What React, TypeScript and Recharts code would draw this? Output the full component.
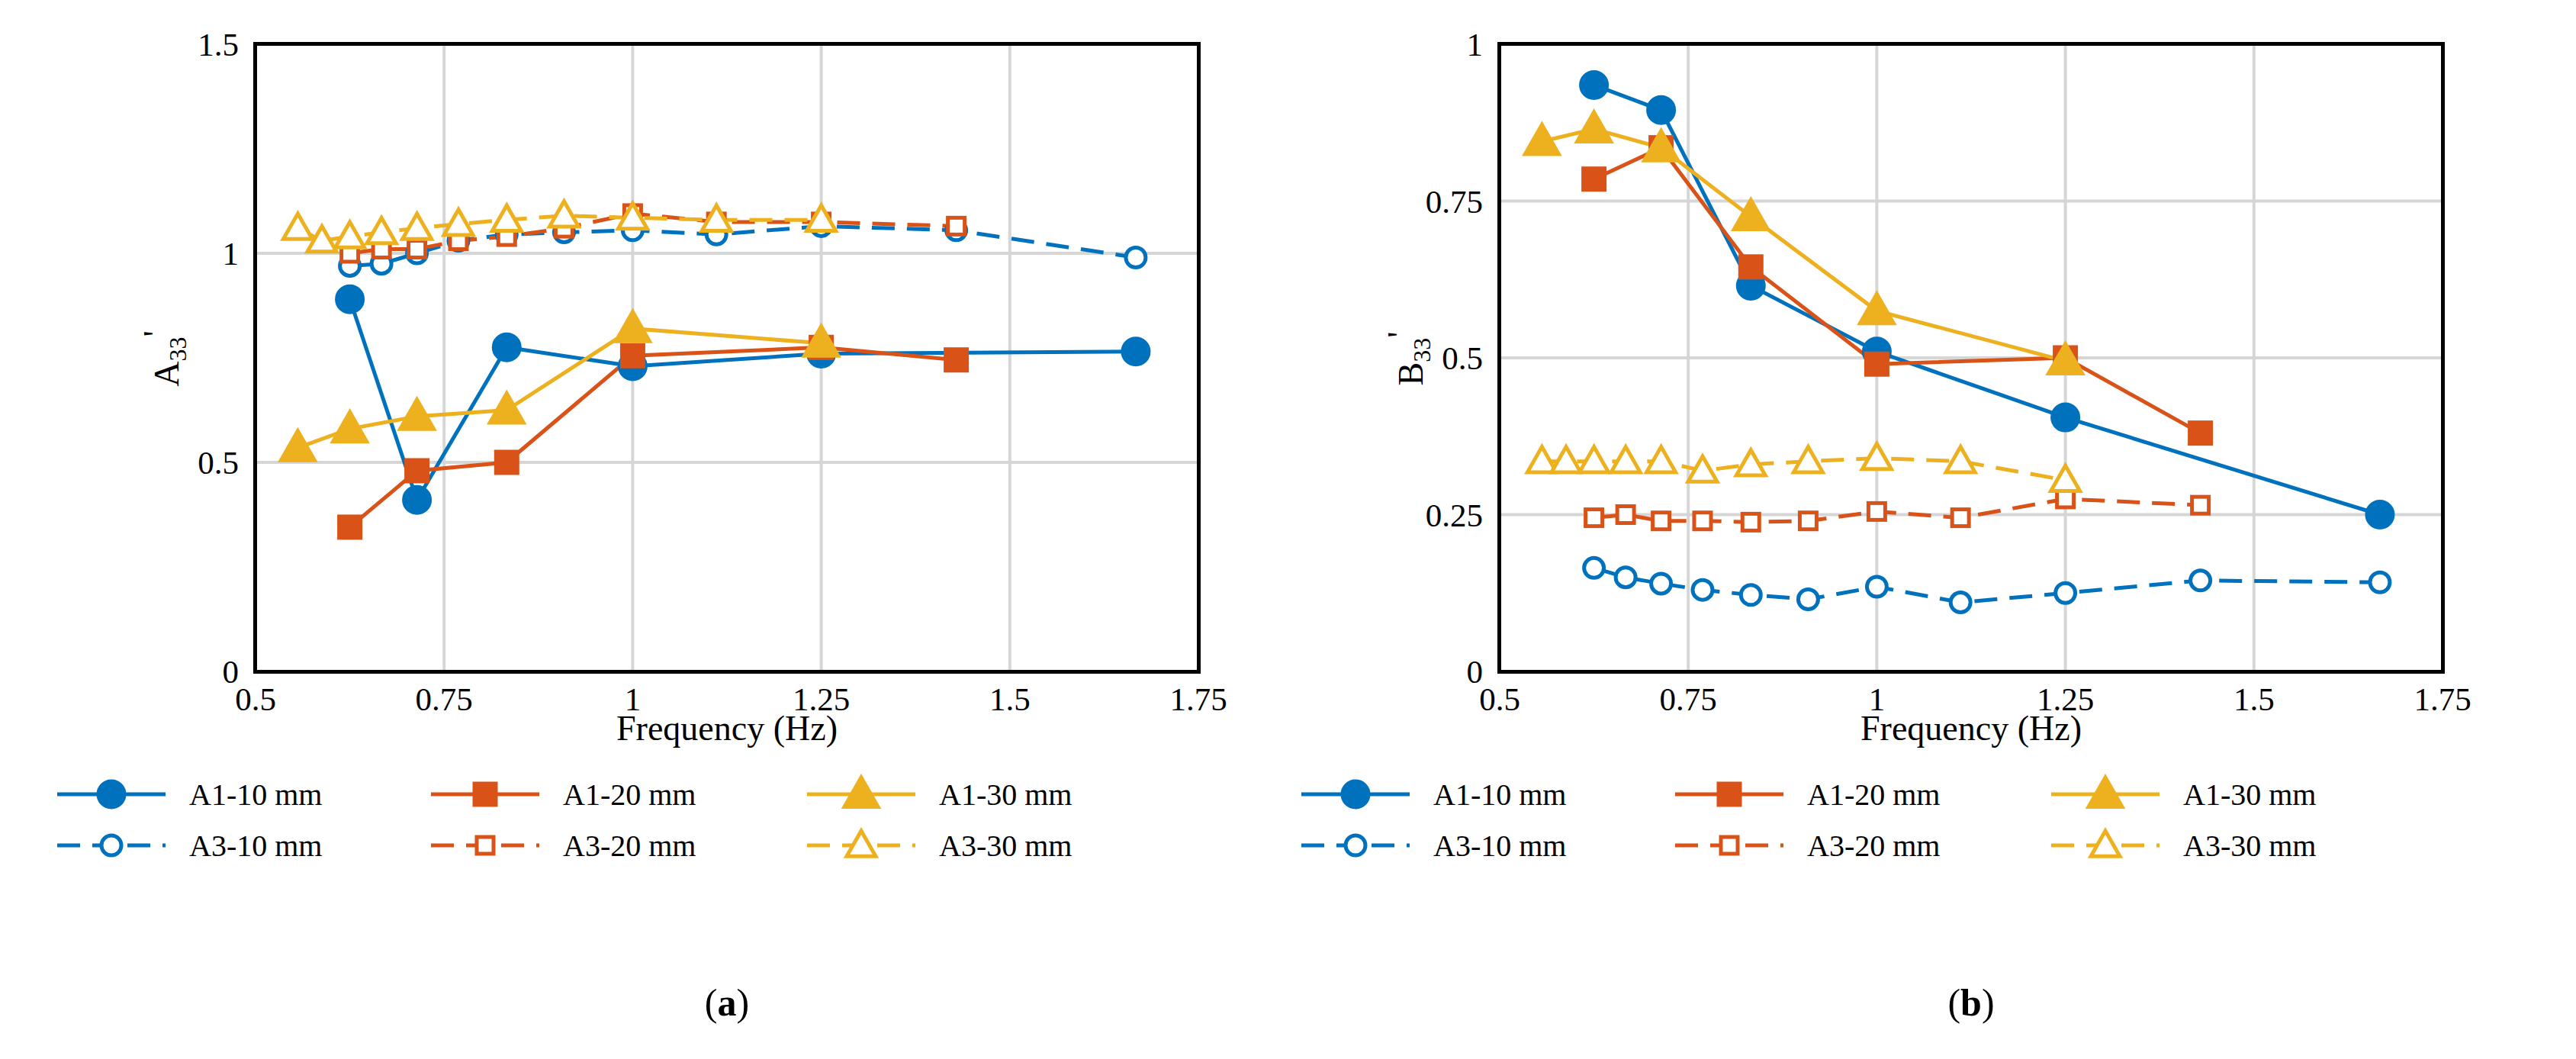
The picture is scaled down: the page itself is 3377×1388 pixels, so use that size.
import { CartesianGrid, Line, LineChart, XAxis, YAxis } from "recharts";

type Pt = { f: number; v: number };
const mk = (fs: number[], vs: number[]): Pt[] => fs.map((f, i) => ({ f, v: vs[i] }));

const F_A1_10 = [0.625, 0.714, 0.833, 1.0, 1.25, 1.667];
const F_A1_20 = [0.625, 0.714, 0.833, 1.0, 1.25, 1.429];
const F_A1_30 = [0.556, 0.625, 0.714, 0.833, 1.0, 1.25];
const F_A3_10 = [0.625, 0.667, 0.714, 0.769, 0.833, 0.909, 1.0, 1.111, 1.25, 1.429, 1.667];
const F_A3_20 = [0.625, 0.667, 0.714, 0.769, 0.833, 0.909, 1.0, 1.111, 1.25, 1.429];
const F_A3_30 = [0.556, 0.588, 0.625, 0.667, 0.714, 0.769, 0.833, 0.909, 1.0, 1.111, 1.25];

// panel (a) A33'
const A_A1_10 = [0.89, 0.41, 0.775, 0.73, 0.76, 0.765];
const A_A1_20 = [0.345, 0.48, 0.5, 0.755, 0.775, 0.745];
const A_A1_30 = [0.535, 0.58, 0.61, 0.625, 0.82, 0.785];
const A_A3_10 = [0.97, 0.975, 1.0, 1.03, 1.045, 1.05, 1.055, 1.045, 1.065, 1.055, 0.99];
const A_A3_20 = [1.0, 1.01, 1.01, 1.03, 1.04, 1.06, 1.095, 1.075, 1.075, 1.065];
const A_A3_30 = [1.06, 1.03, 1.04, 1.05, 1.06, 1.07, 1.08, 1.09, 1.085, 1.08, 1.08];

// panel (b) B33'
const B_A1_10 = [0.935, 0.895, 0.615, 0.51, 0.405, 0.25];
const B_A1_20 = [0.785, 0.835, 0.645, 0.49, 0.5, 0.38];
const B_A1_30 = [0.845, 0.865, 0.835, 0.725, 0.575, 0.495];
const B_A3_10 = [0.165, 0.15, 0.14, 0.13, 0.122, 0.115, 0.135, 0.11, 0.125, 0.145, 0.142];
const B_A3_20 = [0.245, 0.25, 0.24, 0.24, 0.238, 0.24, 0.255, 0.245, 0.275, 0.265];
const B_A3_30 = [0.335, 0.335, 0.335, 0.335, 0.335, 0.32, 0.33, 0.335, 0.34, 0.335, 0.305];

const X_TICKS = [0.5, 0.75, 1, 1.25, 1.5, 1.75];
const A_TICKS = [0, 0.5, 1, 1.5];
const B_TICKS = [0, 0.25, 0.5, 0.75, 1];

const BLUE = "#0072BD";
const ORANGE = "#D95319";
const YELLOW = "#EDB120";
const FONT = "'Liberation Serif', serif";

type Shape = "circle" | "square" | "triangle";
type Series = { name: string; color: string; shape: Shape; open: boolean; data: Pt[] };

const seriesFor = (v: number[][]): Series[] => [
  { name: "A1-10 mm", color: BLUE, shape: "circle", open: false, data: mk(F_A1_10, v[0]) },
  { name: "A1-20 mm", color: ORANGE, shape: "square", open: false, data: mk(F_A1_20, v[1]) },
  { name: "A1-30 mm", color: YELLOW, shape: "triangle", open: false, data: mk(F_A1_30, v[2]) },
  { name: "A3-10 mm", color: BLUE, shape: "circle", open: true, data: mk(F_A3_10, v[3]) },
  { name: "A3-20 mm", color: ORANGE, shape: "square", open: true, data: mk(F_A3_20, v[4]) },
  { name: "A3-30 mm", color: YELLOW, shape: "triangle", open: true, data: mk(F_A3_30, v[5]) },
];

function Marker({ cx, cy, s }: { cx: number; cy: number; s: Series }) {
  const fill = s.open ? "white" : s.color;
  const sw = 5;
  if (s.shape === "circle") {
    const r = s.open ? 13 : 17;
    return <circle cx={cx} cy={cy} r={r} fill={fill} stroke={s.color} strokeWidth={sw} />;
  }
  if (s.shape === "square") {
    const h = s.open ? 11 : 14;
    return <rect x={cx - h} y={cy - h} width={2 * h} height={2 * h} fill={fill} stroke={s.color} strokeWidth={sw} />;
  }
  const h = s.open ? 19 : 22;
  return (
    <polygon
      points={`${cx},${cy - h} ${cx - h},${cy + h * 0.75} ${cx + h},${cy + h * 0.75}`}
      fill={fill}
      stroke={s.color}
      strokeWidth={sw}
      strokeLinejoin="miter"
    />
  );
}

const W = 1620;
const H = 1000;
const PLOT = { top: 58, right: 49, left: 335, bottom: 120 };
const X_H = 70;

function Panel({ left, series, yMax, yTicks, yLabel, tag }: {
  left: number; series: Series[]; yMax: number; yTicks: number[]; yLabel: string; tag: string;
}) {
  const tickStyle = { fill: "#000", fontSize: 43, fontFamily: FONT };
  const legendCols = [75, 565, 1058];
  return (
    <div style={{ position: "absolute", left, top: 0, width: W, height: 1388 }}>
      <LineChart
        width={W}
        height={H}
        margin={{ top: PLOT.top, right: PLOT.right, left: 0, bottom: PLOT.bottom - X_H }}
        style={{ position: "absolute", left: 0, top: 0 }}
      >
        <CartesianGrid stroke="#d6d6d6" strokeWidth={4} />
        <XAxis
          type="number"
          dataKey="f"
          domain={[0.5, 1.75]}
          ticks={X_TICKS}
          tick={tickStyle}
          tickLine={false}
          axisLine={false}
          tickMargin={14}
          height={X_H}
          allowDuplicatedCategory={false}
        />
        <YAxis
          type="number"
          domain={[0, yMax]}
          ticks={yTicks}
          tick={tickStyle}
          tickLine={false}
          axisLine={false}
          tickMargin={16}
          width={PLOT.left}
        />
        {series.map((s) => (
          <Line
            key={s.name}
            data={s.data}
            dataKey="v"
            type="linear"
            stroke={s.color}
            strokeWidth={5}
            strokeDasharray={s.open ? "30 16" : undefined}
            isAnimationActive={false}
            dot={(p: any) => <Marker key={`${s.name}-${p.index}`} cx={p.cx} cy={p.cy} s={s} />}
            activeDot={false}
          />
        ))}
      </LineChart>
      <div
        style={{
          position: "absolute",
          left: PLOT.left - 3,
          top: PLOT.top - 3,
          width: W - PLOT.left - PLOT.right - 4,
          height: H - PLOT.top - PLOT.bottom - 4,
          border: "5px solid #000",
          boxSizing: "content-box",
          pointerEvents: "none",
        }}
      />
      <div
        style={{
          position: "absolute",
          left: 205 - 100,
          top: 470 - 30,
          width: 200,
          height: 60,
          transform: "rotate(-90deg)",
          textAlign: "center",
          fontFamily: FONT,
          fontSize: 46,
          lineHeight: "60px",
        }}
      >
        {yLabel}
        <sub style={{ fontSize: 32 }}>33</sub>
        <span style={{ verticalAlign: "0.3em" }}>'</span>
      </div>
      <div style={{ position: "absolute", left: PLOT.left, width: W - PLOT.left - PLOT.right, top: 928, textAlign: "center", fontFamily: FONT, fontSize: 46 }}>
        Frequency (Hz)
      </div>
      <svg width={W} height={150} style={{ position: "absolute", left: 0, top: 1000 }}>
        {series.map((s, i) => {
          const x0 = legendCols[i % 3];
          const y = i < 3 ? 41 : 108;
          return (
            <g key={s.name}>
              <line x1={x0} y1={y} x2={x0 + 142} y2={y} stroke={s.color} strokeWidth={5} strokeDasharray={s.open ? "30 16" : undefined} />
              <Marker cx={x0 + 71} cy={y} s={s} />
              <text x={x0 + 173} y={y + 14} fontFamily={FONT} fontSize={40} fill="#000">{s.name}</text>
            </g>
          );
        })}
      </svg>
      <div style={{ position: "absolute", left: PLOT.left, width: W - PLOT.left - PLOT.right, top: 1285, textAlign: "center", fontFamily: FONT, fontSize: 50 }}>
        (<b>{tag}</b>)
      </div>
    </div>
  );
}

export default function App() {
  const a = seriesFor([A_A1_10, A_A1_20, A_A1_30, A_A3_10, A_A3_20, A_A3_30]);
  const b = seriesFor([B_A1_10, B_A1_20, B_A1_30, B_A3_10, B_A3_20, B_A3_30]);
  return (
    <div style={{ position: "relative", width: 3377, height: 1388, background: "white", margin: -8 }}>
      <Panel left={0} series={a} yMax={1.5} yTicks={A_TICKS} yLabel="A" tag="a" />
      <Panel left={1631} series={b} yMax={1} yTicks={B_TICKS} yLabel="B" tag="b" />
    </div>
  );
}
